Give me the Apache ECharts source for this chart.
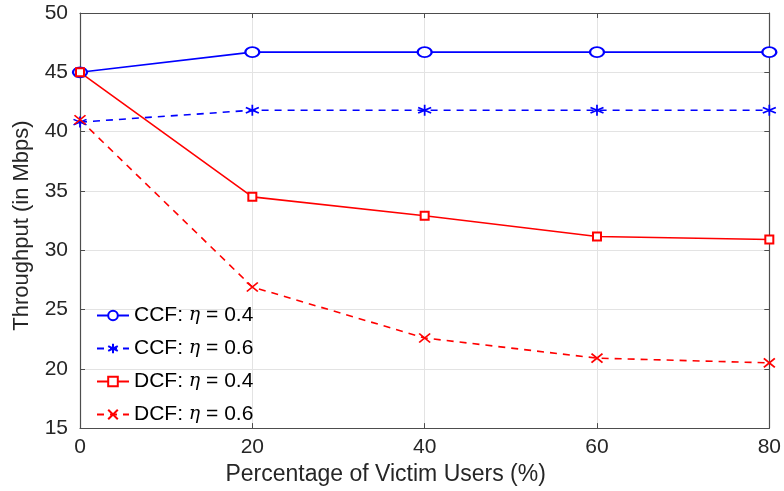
<!DOCTYPE html>
<html>
<head>
<meta charset="utf-8">
<script src="https://cdn.jsdelivr.net/npm/echarts@6/dist/echarts.min.js"></script>
<style>html,body{margin:0;padding:0;background:#fff}#c{width:784px;height:491px}</style>
</head>
<body>
<div id="c"></div>
<script>
var xValues = [0, 20, 40, 60, 80];
var ccf04 = [45.0, 46.7, 46.7, 46.7, 46.7];
var ccf06 = [40.8, 41.8, 41.8, 41.8, 41.8];
var dcf04 = [45.0, 34.5, 32.9, 31.15, 30.9];
var dcf06 = [41.0, 26.9, 22.6, 20.9, 20.5];
var seriesNames = ['CCF: η = 0.4', 'CCF: η = 0.6', 'DCF: η = 0.4', 'DCF: η = 0.6'];

function pairs(arr) { return xValues.map(function (x, i) { return [x, arr[i]]; }); }

var FONT = 'Liberation Sans';
var AX = '#4d4d4d';
var TXT = '#262626';
var asterisk = 'path://M0,-10L0,10M-8.66,-5L8.66,5M-8.66,5L8.66,-5';
var cross = 'path://M-10,-10L10,10M-10,10L10,-10';

function mk(name, data, color, dashed, symbol, size) {
  return {
    name: name, type: 'line', data: pairs(data),
    symbol: symbol, symbolSize: size, showAllSymbol: true,
    lineStyle: { color: color, width: 1.6, type: dashed ? [7, 6] : 'solid' },
    itemStyle: { color: color, borderColor: color, borderWidth: 1.6 },
    emphasis: { disabled: true }, animation: false, z: 3
  };
}

var chart = echarts.init(document.getElementById('c'), null, { renderer: 'canvas' });
chart.setOption({
  animation: false,
  grid: { left: 80, right: 12, top: 13, bottom: 59, show: false },
  legend: {
    orient: 'vertical', left: 96, top: 305, padding: 0,
    itemWidth: 32, itemHeight: 12, itemGap: 12,
    data: seriesNames,
    formatter: function (n) {
      var parts = n.split('η');
      return parts[0] + '{e|η}' + parts[1];
    },
    textStyle: { fontFamily: FONT, fontSize: 21, color: '#000',
      rich: { e: { fontFamily: 'DejaVu Serif', fontStyle: 'italic', fontSize: 19, color: '#000' } } }
  },
  xAxis: [{
    type: 'value', min: 0, max: 80, interval: 20, position: 'bottom',
    name: 'Percentage of Victim Users (%)', nameLocation: 'middle', nameGap: 31,
    nameTextStyle: { fontFamily: FONT, fontSize: 23, color: TXT, padding: [0, 78, 0, 0] },
    axisLine: { onZero: false, lineStyle: { color: AX, width: 1.2 } },
    axisTick: { inside: true, length: 5, lineStyle: { color: AX } },
    axisLabel: { fontFamily: FONT, fontSize: 21, color: TXT, margin: 9 },
    splitLine: { show: true, lineStyle: { color: '#e3e3e3', width: 1 } }
  }, {
    type: 'value', min: 0, max: 80, interval: 20, position: 'top',
    axisLine: { onZero: false, lineStyle: { color: AX, width: 1.2 } },
    axisTick: { inside: true, length: 5, lineStyle: { color: AX } },
    axisLabel: { show: false }, splitLine: { show: false }
  }],
  yAxis: [{
    type: 'value', min: 15, max: 50, interval: 5, position: 'left',
    name: 'Throughput (in Mbps)', nameLocation: 'middle', nameGap: 47,
    nameTextStyle: { fontFamily: FONT, fontSize: 22, color: TXT, padding: [0, 10, 0, 0] },
    axisLine: { show: true, onZero: false, lineStyle: { color: AX, width: 1.2 } },
    axisTick: { show: true, inside: true, length: 5, lineStyle: { color: AX } },
    axisLabel: { fontFamily: FONT, fontSize: 21, color: TXT, margin: 12 },
    splitLine: { show: true, lineStyle: { color: '#e3e3e3', width: 1 } }
  }, {
    type: 'value', min: 15, max: 50, interval: 5, position: 'right',
    axisLine: { show: true, onZero: false, lineStyle: { color: AX, width: 1.2 } },
    axisTick: { show: true, inside: true, length: 5, lineStyle: { color: AX } },
    axisLabel: { show: false }, splitLine: { show: false }
  }],
  series: [
    mk(seriesNames[0], ccf04, '#0000ff', false, 'emptyCircle', [14, 10]),
    mk(seriesNames[1], ccf06, '#0000ff', true, asterisk, [13, 11]),
    mk(seriesNames[2], dcf04, '#ff0000', false, 'emptyRect', 8),
    mk(seriesNames[3], dcf06, '#ff0000', true, cross, [11, 9])
  ]
});
</script>
</body>
</html>
